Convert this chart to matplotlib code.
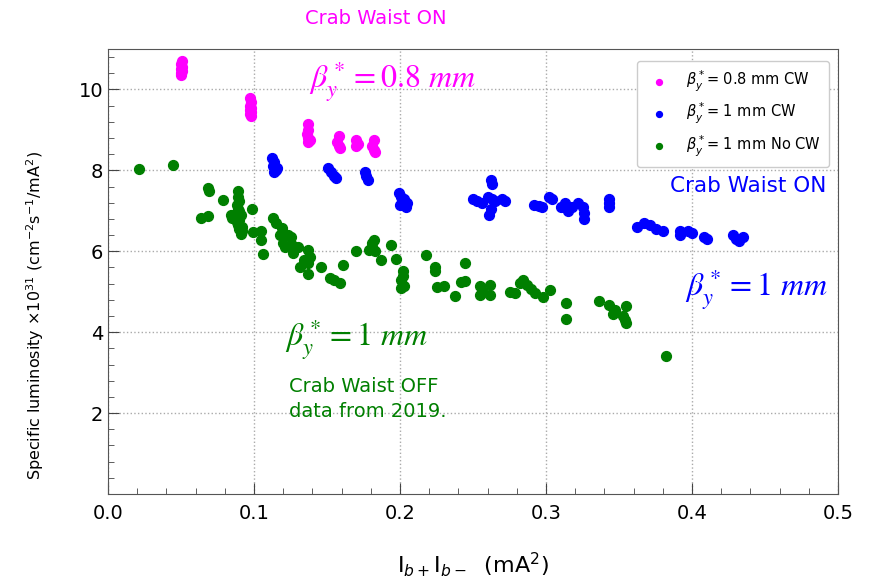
import matplotlib.pyplot as plt
from matplotlib.ticker import MultipleLocator

# beta_y* = 0.8 mm, crab waist on
cw08_x = [0.050, 0.050, 0.051, 0.050, 0.051, 0.050, 0.051,
          0.097, 0.098, 0.097, 0.098, 0.097, 0.098, 0.097, 0.098,
          0.137, 0.137, 0.136, 0.137, 0.138, 0.137,
          0.158, 0.157, 0.158, 0.159,
          0.170, 0.171, 0.170,
          0.182, 0.181, 0.182, 0.183]
cw08_y = [10.35, 10.40, 10.45, 10.50, 10.55, 10.62, 10.70,
          9.80, 9.70, 9.60, 9.55, 9.50, 9.45, 9.40, 9.35,
          9.15, 9.00, 8.90, 8.80, 8.75, 8.70,
          8.85, 8.70, 8.60, 8.55,
          8.75, 8.65, 8.60,
          8.75, 8.60, 8.50, 8.45]

# beta_y* = 1 mm, crab waist on
cw1_x = [0.112, 0.114, 0.113, 0.115, 0.114, 0.116,
         0.151, 0.153, 0.155, 0.156,
         0.176, 0.177, 0.178,
         0.199, 0.201, 0.203, 0.205, 0.200, 0.204, 0.202,
         0.262, 0.263, 0.250, 0.253, 0.256, 0.260, 0.263, 0.265, 0.270, 0.272, 0.262, 0.261,
         0.292, 0.295, 0.297, 0.302, 0.304,
         0.310, 0.313, 0.315, 0.318,
         0.322, 0.325, 0.326, 0.326,
         0.343, 0.343, 0.343,
         0.362, 0.367, 0.371, 0.375, 0.380,
         0.392, 0.392, 0.397, 0.400,
         0.408, 0.410,
         0.428, 0.430, 0.432, 0.435]
cw1_y = [8.30, 8.20, 8.10, 8.00, 7.95, 8.05,
         8.05, 7.95, 7.85, 7.80,
         7.95, 7.85, 7.75,
         7.45, 7.35, 7.30, 7.20, 7.15, 7.10, 7.25,
         7.75, 7.65, 7.30, 7.25, 7.20, 7.35, 7.30, 7.25, 7.30, 7.25, 7.05, 6.90,
         7.15, 7.12, 7.10, 7.35, 7.30,
         7.10, 7.20, 7.00, 7.10,
         7.20, 7.10, 6.95, 6.80,
         7.30, 7.20, 7.10,
         6.60, 6.70, 6.65, 6.55, 6.50,
         6.50, 6.40, 6.50, 6.45,
         6.35, 6.30,
         6.40, 6.30, 6.25, 6.35]

# beta_y* = 1 mm, no crab waist (2019)
nocw_x = [0.0215, 0.0443, 0.0687, 0.069, 0.079, 0.0637, 0.0685,
          0.089, 0.089, 0.090, 0.088, 0.089, 0.090, 0.088, 0.091, 0.089, 0.090, 0.088, 0.089, 0.090, 0.091,
          0.085, 0.084, 0.092, 0.092,
          0.0984, 0.0995, 0.105, 0.105, 0.106,
          0.113, 0.115, 0.119, 0.118, 0.1235, 0.125, 0.120, 0.121, 0.126,
          0.127, 0.130, 0.137, 0.138, 0.134, 0.1315, 0.137, 0.137,
          0.146, 0.152, 0.155, 0.159, 0.161,
          0.170, 0.182, 0.181, 0.181, 0.179, 0.183,
          0.194, 0.187, 0.197,
          0.202, 0.202, 0.201, 0.201, 0.203,
          0.218, 0.224, 0.224, 0.2256, 0.230, 0.2377, 0.2445, 0.242, 0.2445,
          0.255, 0.255, 0.257, 0.2616, 0.2616,
          0.275, 0.279, 0.2845, 0.282, 0.287, 0.290, 0.2925, 0.298, 0.3027,
          0.314, 0.314,
          0.3365, 0.343, 0.347, 0.346, 0.355, 0.3525, 0.354, 0.355,
          0.382]
nocw_y = [8.03, 8.12, 7.57, 7.50, 7.27, 6.83, 6.87,
          7.50, 7.35, 7.25, 7.15, 7.05, 7.00, 6.95, 6.90, 6.85, 6.78, 6.72, 6.65, 6.55, 6.42,
          6.82, 6.90, 6.60, 6.50,
          7.04, 6.48, 6.49, 6.28, 5.93,
          6.82, 6.70, 6.57, 6.40, 6.40, 6.35, 6.20, 6.11, 6.15,
          5.95, 6.11, 6.03, 5.87, 5.78, 5.62, 5.70, 5.43,
          5.60, 5.35, 5.29, 5.21, 5.66,
          6.00, 6.28, 6.20, 6.10, 6.03, 6.00,
          6.16, 5.78, 5.80,
          5.50, 5.40, 5.30, 5.08, 5.15,
          5.91, 5.62, 5.50, 5.11, 5.14, 4.89, 5.70, 5.23, 5.27,
          5.13, 4.92, 5.00, 5.17, 4.92,
          5.00, 4.96, 5.29, 5.21, 5.17, 5.06, 4.96, 4.88, 5.03,
          4.71, 4.32,
          4.78, 4.67, 4.55, 4.45, 4.65, 4.40, 4.30, 4.22,
          3.42]

plt.rcParams['font.family'] = 'DejaVu Sans'

fig = plt.figure(figsize=(8.79, 5.83), dpi=100)
ax = fig.add_axes([0.1229, 0.1527, 0.8305, 0.7633])

ax.scatter(cw08_x, cw08_y, s=50, color='#ff00ff', label=r'$\beta_y^*$= 0.8 mm CW', zorder=3)
ax.scatter(cw1_x, cw1_y, s=50, color='#0000ff', label=r'$\beta_y^*$= 1 mm CW', zorder=3)
ax.scatter(nocw_x, nocw_y, s=50, color='#007f00', label=r'$\beta_y^*$= 1 mm No CW', zorder=3)

ax.set_xlim(0, 0.5)
ax.set_ylim(0, 11)
ax.xaxis.set_major_locator(MultipleLocator(0.1))
ax.xaxis.set_minor_locator(MultipleLocator(0.02))
ax.yaxis.set_major_locator(MultipleLocator(2))
ax.yaxis.set_minor_locator(MultipleLocator(0.4))
ax.tick_params(which='both', direction='in', top=False, right=False, labelsize=14, color='#444444')
ax.tick_params(which='major', length=8)
ax.tick_params(axis='x', pad=7)
ax.tick_params(which='minor', length=4)
ax.set_yticks([2, 4, 6, 8, 10])
ax.grid(True, which='major', linestyle=':', color='#aaaaaa', linewidth=1)
for sp in ax.spines.values():
    sp.set_color('#555555')

ax.set_xlabel(r'I$_{b+}$I$_{b-}$  (mA$^2$)', fontsize=16, labelpad=20)
ax.set_ylabel(r'Specific luminosity $\times10^{31}$ (cm$^{-2}$s$^{-1}$/mA$^2$)', fontsize=11.5)
ax.yaxis.set_label_coords(-0.085, 0.40)

leg = ax.legend(loc='upper right', fontsize=10.5, markerscale=0.6, framealpha=1,
                handletextpad=0.8, borderpad=0.55, labelspacing=0.5,
                bbox_to_anchor=(0.997, 0.99))

fig.text(0.428, 0.968, 'Crab Waist ON', color='#ff00ff', fontsize=14, ha='center', va='center')
ax.text(0.195, 10.19, r'$\beta_y^* = 0.8\ mm$', color='#ff00ff', fontsize=23,
        ha='center', va='center', math_fontfamily='stix')
ax.text(0.492, 7.62, 'Crab Waist ON', color='#0000ff', fontsize=15.5, ha='right', va='center')
ax.text(0.493, 5.04, r'$\beta_y^* = 1\ mm$', color='#0000ff', fontsize=23,
        ha='right', va='center', math_fontfamily='stix')
ax.text(0.121, 3.81, r'$\beta_y^* = 1\ mm$', color='#007f00', fontsize=23,
        ha='left', va='center', math_fontfamily='stix')
ax.text(0.124, 2.35, 'Crab Waist OFF\ndata from 2019.', color='#007f00', fontsize=14,
        ha='left', va='center', linespacing=1.45)

plt.savefig('out.png', dpi=100)
plt.close()
